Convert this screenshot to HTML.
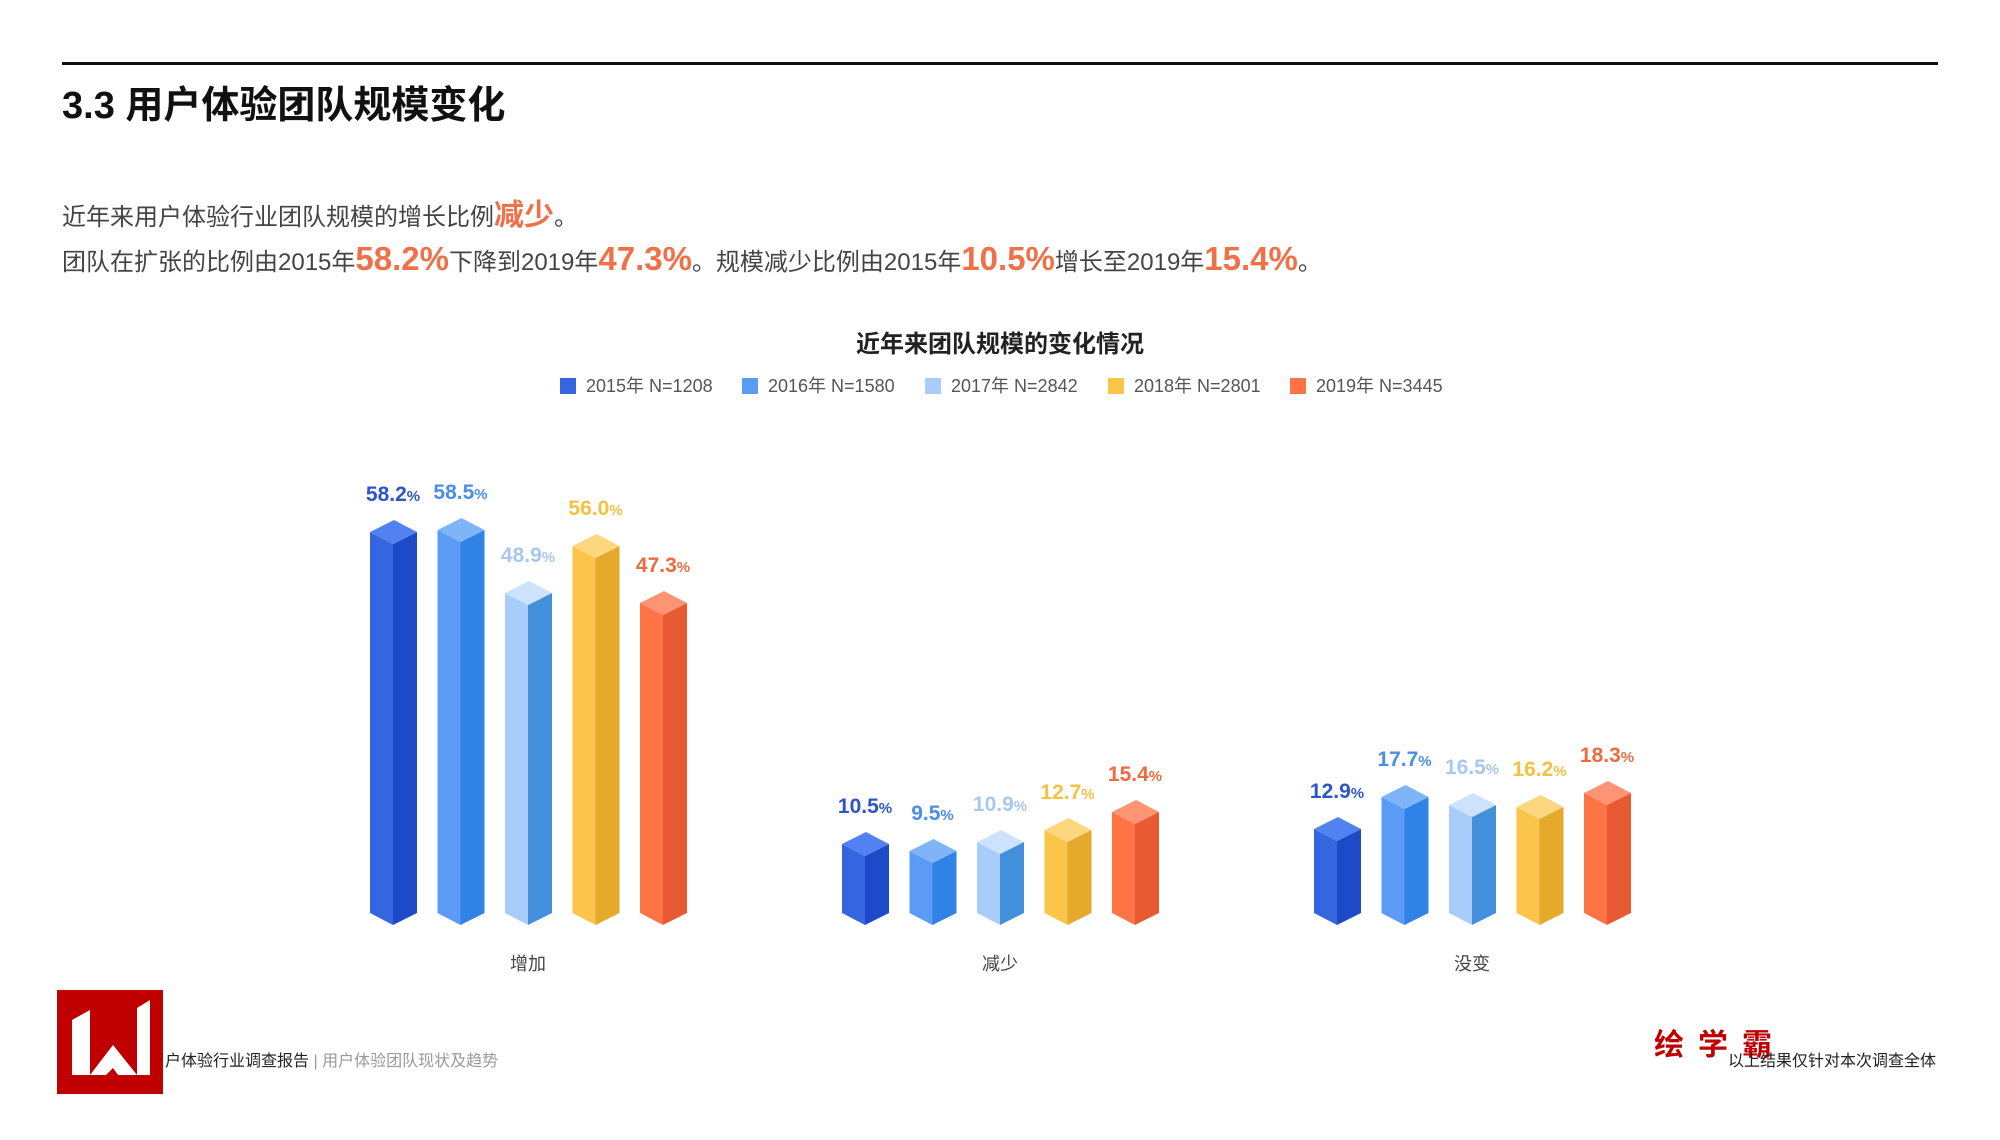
<!DOCTYPE html>
<html><head><meta charset="utf-8"><style>
html,body{margin:0;padding:0;background:#fff;}
body{width:2000px;height:1135px;overflow:hidden;font-family:"Liberation Sans","Noto Sans CJK SC",sans-serif;}
.c0 .f{fill:#3566e0}.c0 .s{fill:#1c4ac8}.c0 .t{fill:#5282f2}.c0 text{fill:#2c55c8}
.c1 .f{fill:#5b9bf5}.c1 .s{fill:#2f82e6}.c1 .t{fill:#80b4f9}.c1 text{fill:#4a8ee8}
.c2 .f{fill:#a9cdfb}.c2 .s{fill:#4290dc}.c2 .t{fill:#cde3fd}.c2 text{fill:#a8c8f0}
.c3 .f{fill:#fbc54a}.c3 .s{fill:#e5a92c}.c3 .t{fill:#fdd780}.c3 text{fill:#f6c040}
.c4 .f{fill:#fe7444}.c4 .s{fill:#e85a32}.c4 .t{fill:#ff9474}.c4 text{fill:#ee6a40}
.b text{font-size:21px;font-weight:bold;text-anchor:middle}
.b tspan{font-size:15px}
</style></head><body>
<svg width="2000" height="1135" viewBox="0 0 2000 1135" xmlns="http://www.w3.org/2000/svg" font-family="Liberation Sans, Noto Sans CJK SC, sans-serif">
<rect width="2000" height="1135" fill="#fff"/>
<rect x="62" y="62" width="1876" height="3" fill="#111"/>
<text x="62" y="118" font-size="38" font-weight="bold" fill="#111">3.3 用户体验团队规模变化</text>
<text x="62" y="225" font-size="24" fill="#444">近年来用户体验行业团队规模的增长比例<tspan fill="#f07048" font-size="30" font-weight="bold">减少</tspan>。</text>
<text x="62" y="270" font-size="24" fill="#444">团队在扩张的比例由2015年<tspan fill="#f07048" font-size="33" font-weight="bold">58.2%</tspan>下降到2019年<tspan fill="#f07048" font-size="33" font-weight="bold">47.3%</tspan>。规模减少比例由2015年<tspan fill="#f07048" font-size="33" font-weight="bold">10.5%</tspan>增长至2019年<tspan fill="#f07048" font-size="33" font-weight="bold">15.4%</tspan>。</text>
<text x="1000" y="352" font-size="24" font-weight="bold" fill="#222" text-anchor="middle">近年来团队规模的变化情况</text>
<g font-size="18" fill="#555">
<rect x="560" y="378" width="16" height="16" fill="#3566e0"/><text x="586" y="392">2015年 N=1208</text>
<rect x="742" y="378" width="16" height="16" fill="#5b9bf5"/><text x="768" y="392">2016年 N=1580</text>
<rect x="925" y="378" width="16" height="16" fill="#a9cdfb"/><text x="951" y="392">2017年 N=2842</text>
<rect x="1108" y="378" width="16" height="16" fill="#fbc54a"/><text x="1134" y="392">2018年 N=2801</text>
<rect x="1290" y="378" width="16" height="16" fill="#fe7444"/><text x="1316" y="392">2019年 N=3445</text>
</g>

<g class="b">
<!-- group 1 -->
<g class="c0" transform="translate(370,0)"><polygon class="f" points="0,532 23,544 23,925 0,913"/><polygon class="s" points="23,544 47,532 47,913 23,925"/><polygon class="t" points="0,532 24,520 47,532 23,544"/><text x="23" y="501">58.2<tspan>%</tspan></text></g>
<g class="c1" transform="translate(437.5,0)"><polygon class="f" points="0,530 23,542 23,925 0,913"/><polygon class="s" points="23,542 47,530 47,913 23,925"/><polygon class="t" points="0,530 24,518 47,530 23,542"/><text x="23" y="499">58.5<tspan>%</tspan></text></g>
<g class="c2" transform="translate(505,0)"><polygon class="f" points="0,593 23,605 23,925 0,913"/><polygon class="s" points="23,605 47,593 47,913 23,925"/><polygon class="t" points="0,593 24,581 47,593 23,605"/><text x="23" y="562">48.9<tspan>%</tspan></text></g>
<g class="c3" transform="translate(572.5,0)"><polygon class="f" points="0,546 23,558 23,925 0,913"/><polygon class="s" points="23,558 47,546 47,913 23,925"/><polygon class="t" points="0,546 24,534 47,546 23,558"/><text x="23" y="515">56.0<tspan>%</tspan></text></g>
<g class="c4" transform="translate(640,0)"><polygon class="f" points="0,603 23,615 23,925 0,913"/><polygon class="s" points="23,615 47,603 47,913 23,925"/><polygon class="t" points="0,603 24,591 47,603 23,615"/><text x="23" y="572">47.3<tspan>%</tspan></text></g>
<!-- group 2 -->
<g class="c0" transform="translate(842,0)"><polygon class="f" points="0,844 23,856 23,925 0,913"/><polygon class="s" points="23,856 47,844 47,913 23,925"/><polygon class="t" points="0,844 24,832 47,844 23,856"/><text x="23" y="813">10.5<tspan>%</tspan></text></g>
<g class="c1" transform="translate(909.5,0)"><polygon class="f" points="0,851 23,863 23,925 0,913"/><polygon class="s" points="23,863 47,851 47,913 23,925"/><polygon class="t" points="0,851 24,839 47,851 23,863"/><text x="23" y="820">9.5<tspan>%</tspan></text></g>
<g class="c2" transform="translate(977,0)"><polygon class="f" points="0,842 23,854 23,925 0,913"/><polygon class="s" points="23,854 47,842 47,913 23,925"/><polygon class="t" points="0,842 24,830 47,842 23,854"/><text x="23" y="811">10.9<tspan>%</tspan></text></g>
<g class="c3" transform="translate(1044.5,0)"><polygon class="f" points="0,830 23,842 23,925 0,913"/><polygon class="s" points="23,842 47,830 47,913 23,925"/><polygon class="t" points="0,830 24,818 47,830 23,842"/><text x="23" y="799">12.7<tspan>%</tspan></text></g>
<g class="c4" transform="translate(1112,0)"><polygon class="f" points="0,812 23,824 23,925 0,913"/><polygon class="s" points="23,824 47,812 47,913 23,925"/><polygon class="t" points="0,812 24,800 47,812 23,824"/><text x="23" y="781">15.4<tspan>%</tspan></text></g>
<!-- group 3 -->
<g class="c0" transform="translate(1314,0)"><polygon class="f" points="0,829 23,841 23,925 0,913"/><polygon class="s" points="23,841 47,829 47,913 23,925"/><polygon class="t" points="0,829 24,817 47,829 23,841"/><text x="23" y="798">12.9<tspan>%</tspan></text></g>
<g class="c1" transform="translate(1381.5,0)"><polygon class="f" points="0,797 23,809 23,925 0,913"/><polygon class="s" points="23,809 47,797 47,913 23,925"/><polygon class="t" points="0,797 24,785 47,797 23,809"/><text x="23" y="766">17.7<tspan>%</tspan></text></g>
<g class="c2" transform="translate(1449,0)"><polygon class="f" points="0,805 23,817 23,925 0,913"/><polygon class="s" points="23,817 47,805 47,913 23,925"/><polygon class="t" points="0,805 24,793 47,805 23,817"/><text x="23" y="774">16.5<tspan>%</tspan></text></g>
<g class="c3" transform="translate(1516.5,0)"><polygon class="f" points="0,807 23,819 23,925 0,913"/><polygon class="s" points="23,819 47,807 47,913 23,925"/><polygon class="t" points="0,807 24,795 47,807 23,819"/><text x="23" y="776">16.2<tspan>%</tspan></text></g>
<g class="c4" transform="translate(1584,0)"><polygon class="f" points="0,793 23,805 23,925 0,913"/><polygon class="s" points="23,805 47,793 47,913 23,925"/><polygon class="t" points="0,793 24,781 47,793 23,805"/><text x="23" y="762">18.3<tspan>%</tspan></text></g>
</g>

<g font-size="18" fill="#444" text-anchor="middle">
<text x="528" y="970">增加</text><text x="1000" y="970">减少</text><text x="1472" y="970">没变</text>
</g>
<rect x="57" y="990" width="106" height="104" fill="#c00000"/>
<g fill="#fff">
<polygon points="72,1020 90,1010 90,1075 72,1075"/>
<polygon points="137,1008 150,1000 150,1075 137,1075"/>
<polygon points="90,1075 113,1045 137,1075 118,1075 113,1068 106,1075"/>
</g>
<text x="165" y="1066" font-size="16" fill="#222">户体验行业调查报告<tspan fill="#999"> | 用户体验团队现状及趋势</tspan></text>
<text x="1654" y="1055" font-size="30" font-weight="bold" fill="#c00000" letter-spacing="14">绘学霸</text>
<text x="1936" y="1066" font-size="16" fill="#222" text-anchor="end">以上结果仅针对本次调查全体</text>
</svg>
</body></html>
